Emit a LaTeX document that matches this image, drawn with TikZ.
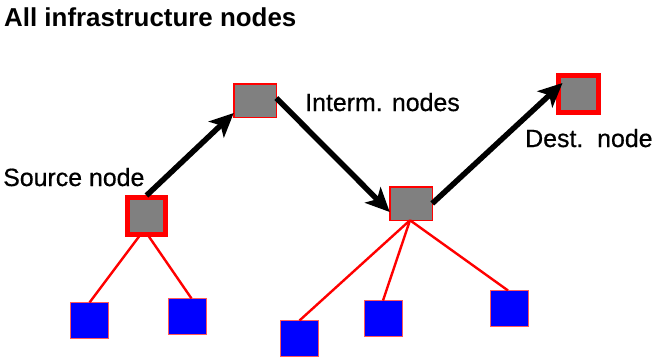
\documentclass[tikz,border=0pt]{standalone}
\usepackage{fontspec}
\setmainfont{Liberation Sans}
\newfontfamily\labelfont[FakeBold=0.6]{Liberation Sans}
\usetikzlibrary{arrows.meta}
\begin{document}
\begin{tikzpicture}[x=1bp,y=-1bp,
  endpt/.style={draw=red,fill=black!50,line width=5.5bp,minimum width=38bp,minimum height=37bp,inner sep=0pt,outer sep=0pt},
  relay/.style={draw=red,fill=black!50,line width=1.5bp,minimum width=42.5bp,minimum height=33.5bp,inner sep=0pt,outer sep=0pt},
  leaf/.style={draw=red!65,fill=blue,line width=1bp,minimum width=38bp,minimum height=36bp,inner sep=0pt,outer sep=0pt},
  flow/.style={line width=5.5bp,-{Stealth[length=24bp,width=22bp,inset=6bp]}},
  link/.style={draw=red,line width=2.4bp},
  lbl/.style={anchor=base west,inner sep=0pt,font=\labelfont\fontsize{25}{30}\selectfont}]
\useasboundingbox (0,0) rectangle (659,361);

% title
\node[anchor=base west,inner sep=0pt,font=\fontsize{26}{31}\selectfont\bfseries] (title) at (4,26) {All infrastructure nodes};

% infrastructure nodes
\node[endpt] (src) at (146.5,216) {};
\node[relay] (int1) at (255,100.5) {};
\node[relay] (int2) at (411,203.5) {};
\node[endpt,minimum width=40bp] (dst) at (578.5,94) {};

% labels
\node[lbl] (lsrc) at (3,186) {Source node};
\node[lbl] (lint) at (305,111) {Interm. nodes};
\node[lbl] (ldst) at (525,147) {Dest.\ \ node};

% attached end nodes
\node[leaf] (b1) at (89.5,320.5) {};
\node[leaf] (b2) at (187.5,316.5) {};
\node[leaf] (b3) at (299.5,338.5) {};
\node[leaf] (b4) at (383,318.5) {};
\node[leaf] (b5) at (509,308.5) {};

% red attachment lines
\draw[link] ([xshift=-6bp]src.south) -- (b1.north);
\draw[link] ([xshift=1bp]src.south) -- ([xshift=4bp]b2.north);
\draw[link] ([xshift=-1bp]int2.south) -- (b3.north);
\draw[link] ([xshift=-1bp]int2.south) -- (b4.north);
\draw[link] ([xshift=-1bp]int2.south) -- ([xshift=-1bp]b5.north);

% route through the infrastructure
\draw[flow] ([yshift=2bp]src.north) -- ([yshift=-12.5bp]int1.west);
\draw[flow] ([yshift=2.5bp]int1.east) -- ([yshift=-8.5bp]int2.west);
\draw[flow] ([yshift=0bp]int2.east) -- ([xshift=4bp,yshift=11bp]dst.west);
\end{tikzpicture}
\end{document}
